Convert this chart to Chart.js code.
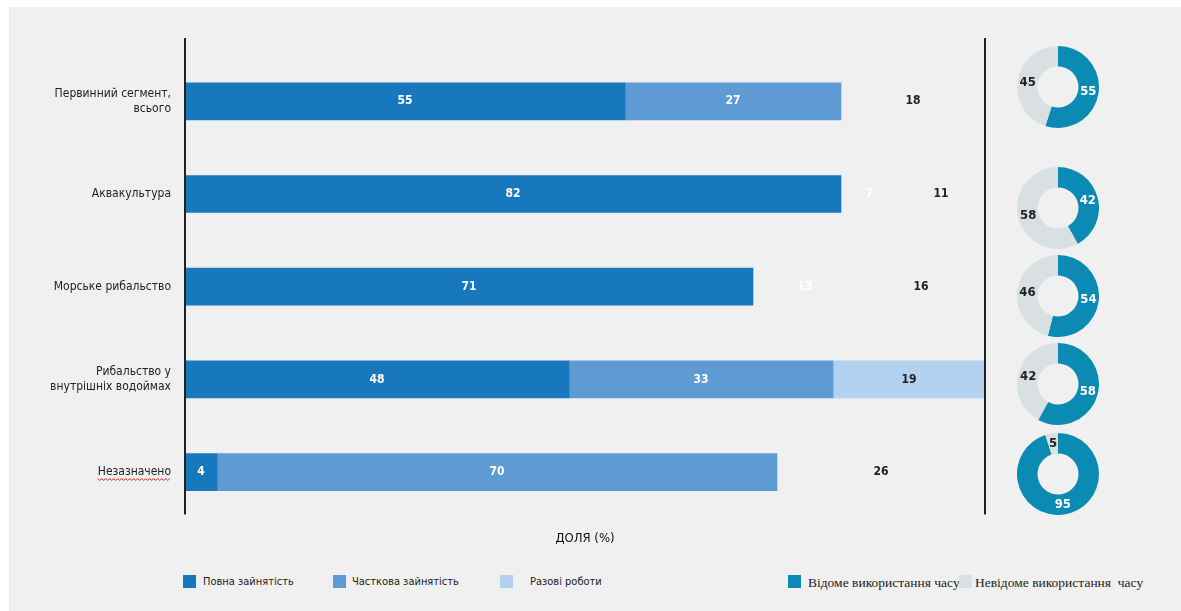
<!DOCTYPE html>
<html lang="uk">
<head>
<meta charset="utf-8">
<title>Зайнятість у первинному сегменті</title>
<script src="https://cdn.jsdelivr.net/npm/chart.js@4.4.1/dist/chart.umd.min.js"></script>
<style>
  html, body { margin: 0; padding: 0; background: #fff; width: 1181px; height: 611px; overflow: hidden; }
  #panel { position: absolute; left: 9px; top: 7px; width: 1172px; height: 604px; background: #f0f0f0; }
  #barChart { position: absolute; left: 0; top: 0; }
  .donut { position: absolute; }
  .lg { position: absolute; white-space: pre; color: #222; }
  .lg-bar { font: 11px "Liberation Sans Narrow", "DejaVu Sans Condensed", sans-serif; top: 575px; line-height: 14px; }
  .lg-time { font: 13.5px "Liberation Serif", "DejaVu Serif", serif; top: 575px; line-height: 16px; }
  .sw { position: absolute; width: 13px; height: 13px; }
</style>
</head>
<body>
<div id="panel"></div>
<canvas id="barChart" width="1000" height="550"></canvas>
<div id="donuts"></div>
<div id="legends"></div>

<script>
// ===== DATA =====
const categories = [
  ['Первинний сегмент,', 'всього'],
  'Аквакультура',
  'Морське рибальство',
  ['Рибальство у', 'внутрішніх водоймах'],
  'Незазначено'
];
const seriesNames = ['Повна зайнятість', 'Часткова зайнятість', 'Разові роботи'];
const fullTime = [55, 82, 71, 48, 4];
const partTime = [27, 7, 13, 33, 70];
const casual   = [18, 11, 16, 19, 26];

const timeNames = ['Відоме використання часу', 'Невідоме використання  часу'];
const knownTime   = [55, 42, 54, 58, 95];
const unknownTime = [45, 58, 46, 42, 5];

// ===== STYLE =====
const FONT = '"Liberation Sans Narrow", "DejaVu Sans Condensed", sans-serif';
const C_FULL = '#1878be';
const C_PART = '#5e9bd5';
const C_CAS  = '#b3d2ef';
const C_KNOWN = '#0b8ab4';
const C_UNKNOWN = '#d9e0e4';
const INK = '#222';

// which bars are filled in the original (some are only labels)
const partFilled = [true, false, false, true, true];
const casFilled  = [false, false, false, true, false];

/**
 * PLUGINS
 */
const frameLines = {
  id: 'frameLines',
  afterDraw(chart) {
    const { ctx, chartArea: a } = chart;
    ctx.save();
    ctx.strokeStyle = INK;
    ctx.lineWidth = 2;
    [a.left, a.right].forEach(x => {
      ctx.beginPath();
      ctx.moveTo(x, a.top - 17);
      ctx.lineTo(x, a.bottom - 4);
      ctx.stroke();
    });
    ctx.restore();
  }
};

const barValues = {
  id: 'barValues',
  afterDatasetsDraw(chart) {
    const { ctx } = chart;
    ctx.save();
    ctx.font = 'bold 12px ' + FONT;
    ctx.textAlign = 'center';
    ctx.textBaseline = 'middle';
    chart.data.datasets.forEach((ds, i) => {
      chart.getDatasetMeta(i).data.forEach((bar, j) => {
        const p = bar.getCenterPoint();
        ctx.fillStyle = ds.labelColor;
        ctx.fillText(String(ds.data[j]), p.x, p.y);
      });
    });
    ctx.restore();
  }
};

// spell-check squiggle under the last category, as in the source image
const squiggle = {
  id: 'squiggle',
  afterDraw(chart) {
    const { ctx } = chart;
    const y = chart.scales.y;
    const idx = categories.length - 1;
    ctx.save();
    ctx.font = '12px ' + FONT;
    const w = ctx.measureText(categories[idx]).width;
    const right = y.right - 14;
    const yy = y.getPixelForTick(idx) + 7;
    ctx.strokeStyle = '#e02020';
    ctx.lineWidth = 1;
    ctx.beginPath();
    for (let x = right - w; x <= right; x += 2) {
      const k = Math.round((x - (right - w)) / 2);
      const py = yy + (k % 2 ? 1.5 : -0.5);
      if (x === right - w) ctx.moveTo(x, py); else ctx.lineTo(x, py);
    }
    ctx.stroke();
    ctx.restore();
  }
};

// ===== BAR CHART =====
new Chart(document.getElementById('barChart'), {
  type: 'bar',
  data: {
    labels: categories,
    datasets: [
      { label: seriesNames[0], data: fullTime, backgroundColor: C_FULL, labelColor: '#fff' },
      { label: seriesNames[1], data: partTime, labelColor: '#fff',
        backgroundColor: partFilled.map(f => f ? C_PART : 'rgba(0,0,0,0)') },
      { label: seriesNames[2], data: casual, labelColor: INK,
        backgroundColor: casFilled.map(f => f ? C_CAS : 'rgba(0,0,0,0)') }
    ]
  },
  options: {
    indexAxis: 'y',
    responsive: false,
    animation: false,
    events: [],
    layout: { padding: { top: 55, right: 15, left: 0, bottom: 0 } },
    datasets: { bar: { barThickness: 37, borderWidth: 0 } },
    scales: {
      x: {
        stacked: true, min: 0, max: 100,
        grid: { display: false }, border: { display: false },
        ticks: { display: false },
        title: { display: true, text: 'ДОЛЯ (%)', color: '#111', padding: 4,
                 font: { family: FONT, size: 13 } }
      },
      y: {
        stacked: true,
        grid: { display: false, drawTicks: false }, border: { display: false },
        ticks: { color: INK, padding: 14, font: { family: FONT, size: 12 } },
        afterFit(scale) { scale.width = 185; }
      }
    },
    plugins: { legend: { display: false }, tooltip: { enabled: false } }
  },
  plugins: [frameLines, barValues, squiggle]
});

// ===== DONUTS =====
const donutCenters = [87, 208, 296, 384, 474];
const donutLabels = {
  id: 'donutLabels',
  afterDatasetsDraw(chart) {
    const { ctx } = chart;
    const ds = chart.data.datasets[0];
    ctx.save();
    ctx.font = 'bold 13px ' + FONT;
    ctx.textAlign = 'center';
    ctx.textBaseline = 'middle';
    chart.getDatasetMeta(0).data.forEach((arc, j) => {
      const p = arc.tooltipPosition();
      ctx.fillStyle = j === 0 ? '#fff' : INK;
      ctx.fillText(String(ds.data[j]), p.x, p.y);
    });
    ctx.restore();
  }
};

const donutBox = document.getElementById('donuts');
knownTime.forEach((k, i) => {
  const cv = document.createElement('canvas');
  cv.className = 'donut';
  cv.width = 82; cv.height = 82;
  cv.style.left = (1058 - 41) + 'px';
  cv.style.top = (donutCenters[i] - 41) + 'px';
  donutBox.appendChild(cv);
  new Chart(cv, {
    type: 'doughnut',
    data: {
      labels: timeNames,
      datasets: [{ data: [k, unknownTime[i]], backgroundColor: [C_KNOWN, C_UNKNOWN], borderWidth: 0 }]
    },
    options: {
      responsive: false, animation: false, events: [],
      cutout: '50%',
      layout: { padding: 0 },
      plugins: { legend: { display: false }, tooltip: { enabled: false } }
    },
    plugins: [donutLabels]
  });
});

// ===== LEGENDS =====
const legends = document.getElementById('legends');
function addItem(color, text, swX, textX, cls, swTop) {
  legends.insertAdjacentHTML('beforeend',
    `<div class="sw" style="left:${swX}px;top:${swTop}px;background:${color}"></div>` +
    `<div class="lg ${cls}" style="left:${textX}px">${text}</div>`);
}
addItem(C_FULL, seriesNames[0], 183, 203, 'lg-bar', 575);
addItem(C_PART, seriesNames[1], 333, 352, 'lg-bar', 575);
addItem(C_CAS,  seriesNames[2], 500, 530, 'lg-bar', 575);
addItem(C_KNOWN,   timeNames[0], 788, 808, 'lg-time', 575);
addItem(C_UNKNOWN, timeNames[1], 959, 975, 'lg-time', 575);
</script>
</body>
</html>
